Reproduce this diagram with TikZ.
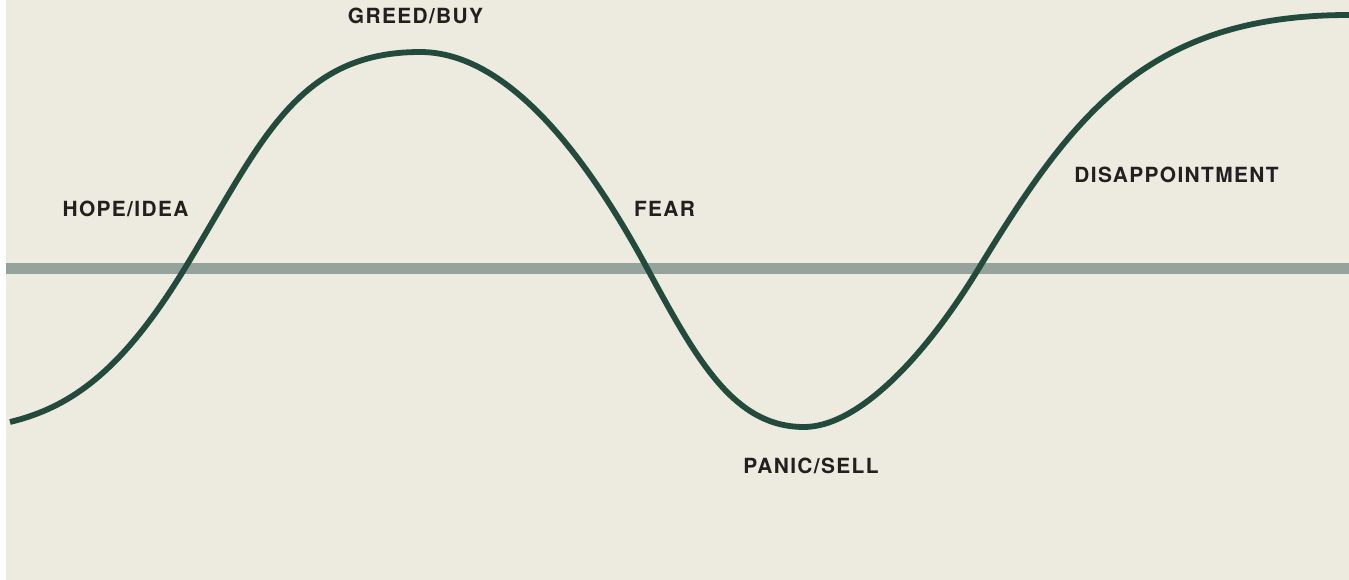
\documentclass[tikz,border=0pt]{standalone}
\usetikzlibrary{calc}
\usepackage{fontspec}
\setmainfont{TeX Gyre Heros}
\newfontfamily\labelfont[LetterSpace=6.5]{TeX Gyre Heros}
\definecolor{bgbeige}{HTML}{EDEAE0}
\definecolor{axisgrey}{HTML}{95A39C}
\definecolor{curvegreen}{HTML}{224A3D}
\definecolor{labeltext}{HTML}{231F20}
\begin{document}
\begin{tikzpicture}[x=1pt,y=-1pt,
  phaselabel/.style={font=\labelfont\bfseries\fontsize{20.9}{24}\selectfont, text=labeltext, inner sep=0pt, anchor=base},
  axisline/.style={draw=axisgrey, line width=11pt},
  cycleline/.style={draw=curvegreen, line width=5.8pt}]
\useasboundingbox (0,0) rectangle (1349,580);
\fill[bgbeige] (6,0) rectangle (1349,580);
% axis
\coordinate (axL) at (6,268.5);
\coordinate (axR) at (1349,268.5);
\draw[axisline] (axL) -- (axR);
% curve: extremes and crossings
\coordinate (c0) at (10,422);
\coordinate (x1) at (185,268);
\coordinate (c1) at (420,52);
\coordinate (x2) at (647,268);
\coordinate (c2) at (804,427);
\coordinate (x3) at (979,268);
\coordinate (c3) at (1349,15);
\draw[cycleline]
  (c0) .. controls ($(c0)+(62,-15)$) and ($(x1)+(-62,101.7)$) .. (x1)
       .. controls ($(x1)+(75,-123)$) and ($(c1)+(-125,0)$) .. (c1)
       .. controls ($(c1)+(80,0)$) and ($(x2)+(-70,-129.5)$) .. (x2)
       .. controls ($(x2)+(50,92.5)$) and ($(c2)+(-70,0)$) .. (c2)
       .. controls ($(c2)+(50,0)$) and ($(x3)+(-60,98.4)$) .. (x3)
       .. controls ($(x3)+(95,-155.8)$) and ($(c3)+(-200,0)$) .. (c3);
% labels
\node[phaselabel] (greed) at (415.5,24) {GREED/BUY};
\node[phaselabel] (hope) at (125.5,217) {HOPE/IDEA};
\node[phaselabel] (fear) at (664.5,217) {FEAR};
\node[phaselabel] (panic) at (811,473) {PANIC/SELL};
\node[phaselabel] (disap) at (1176.5,183) {DISAPPOINTMENT};
\end{tikzpicture}
\end{document}
